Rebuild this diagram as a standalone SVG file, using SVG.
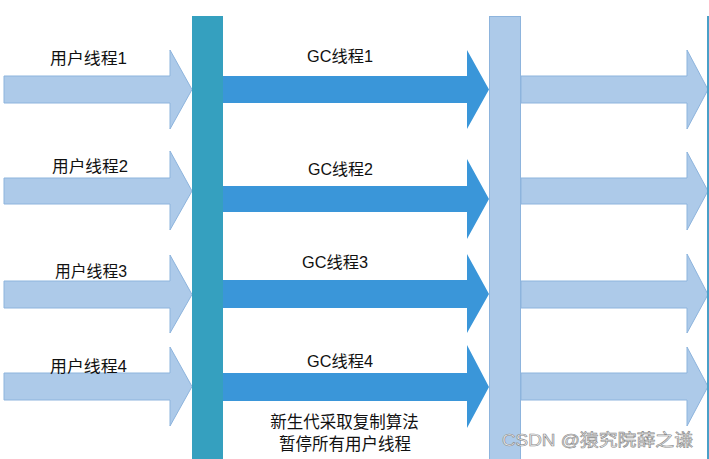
<svg xmlns="http://www.w3.org/2000/svg" width="709" height="459" viewBox="0 0 709 459">
<style>
.user{fill:#adcae9;stroke:#8db4dd;stroke-width:1}
.gc{fill:#3a96d9}
.lbl{font-family:"Liberation Sans","Noto Sans CJK SC",sans-serif;font-size:16px;fill:#111;text-anchor:middle}
.note{font-family:"Noto Sans CJK SC",sans-serif;font-size:16.5px;fill:#111;text-anchor:middle}
.wm{font-family:"Liberation Sans","Noto Sans CJK SC",sans-serif;font-size:16.5px;fill:#f4f4f4;stroke:#8a8a8a;stroke-width:0.6}
</style>
<rect width="709" height="459" fill="#fff"/>
<g id="connectors">
  <polygon class="user" points="4,76 170,76 170,50 192,89.5 170,129 170,103 4,103"/>
  <polygon class="user" points="4,178 170,178 170,151 192,191 170,230 170,204 4,204"/>
  <polygon class="user" points="4,281 170,281 170,255 192,294.5 170,333 170,308 4,308"/>
  <polygon class="user" points="4,373 170,373 170,347 192,386.5 170,426 170,400 4,400"/>
  <polygon class="gc" points="223,76 467,76 467,50 489,89.5 467,129 467,103 223,103"/>
  <polygon class="gc" points="223,186 467,186 467,159 489,199 467,239 467,212 223,212"/>
  <polygon class="gc" points="223,280 467,280 467,254 489,294 467,333 467,308 223,308"/>
  <polygon class="gc" points="223,373 467,373 467,345 489,387 467,428 467,401 223,401"/>
  <polygon class="user" points="521,76 687,76 687,50 708,89.5 687,129 687,103 521,103"/>
  <polygon class="user" points="521,178 687,178 687,152 708,191 687,230 687,204 521,204"/>
  <polygon class="user" points="521,281 687,281 687,254 708,294.5 687,333 687,308 521,308"/>
  <polygon class="user" points="521,373 687,373 687,347 708,386.5 687,426 687,400 521,400"/>
</g>
<g id="stop-bar"><rect x="192" y="16" width="31" height="450" fill="#35a0bf"/></g>
<g id="resume-bar"><rect x="489.5" y="16.5" width="31" height="450" fill="#adcae9" stroke="#8db4dd" stroke-width="1"/></g>
<g id="next-bar"><rect x="707" y="16" width="3" height="450" fill="#4aa0c8"/></g>
<g id="labels">
  <text class="lbl" x="88.5" y="64" textLength="77" lengthAdjust="spacingAndGlyphs">用户线程1</text>
  <text class="lbl" x="90" y="171.5" textLength="76" lengthAdjust="spacingAndGlyphs">用户线程2</text>
  <text class="lbl" x="91" y="277" textLength="72" lengthAdjust="spacingAndGlyphs">用户线程3</text>
  <text class="lbl" x="88.5" y="371.5" textLength="77" lengthAdjust="spacingAndGlyphs">用户线程4</text>
  <text class="lbl" x="340" y="62" textLength="66" lengthAdjust="spacingAndGlyphs">GC线程1</text>
  <text class="lbl" x="340.5" y="175" textLength="65" lengthAdjust="spacingAndGlyphs">GC线程2</text>
  <text class="lbl" x="335" y="268" textLength="66" lengthAdjust="spacingAndGlyphs">GC线程3</text>
  <text class="lbl" x="340" y="366.5" textLength="66" lengthAdjust="spacingAndGlyphs">GC线程4</text>
</g>
<g id="note">
  <text class="note" x="344.5" y="428">新生代采取复制算法</text>
  <text class="note" x="345" y="450">暂停所有用户线程</text>
</g>
<text class="wm" x="502" y="446" textLength="191" lengthAdjust="spacingAndGlyphs">CSDN @猿究院薛之谦</text>
</svg>
